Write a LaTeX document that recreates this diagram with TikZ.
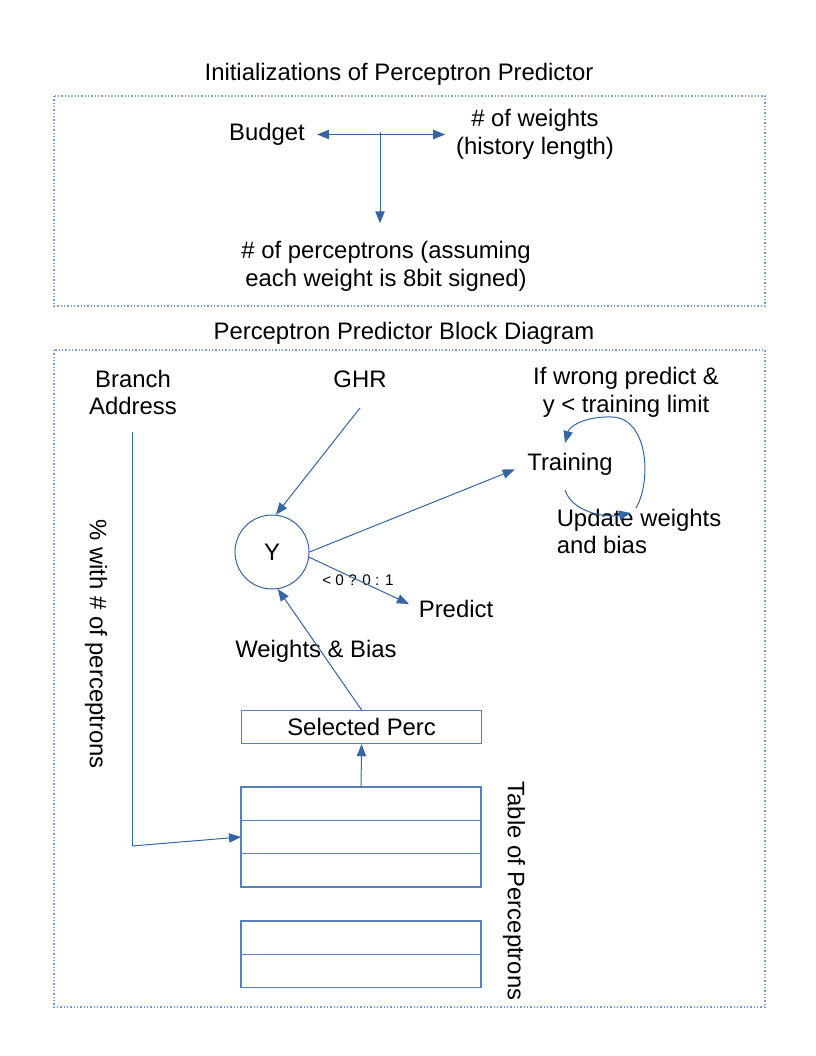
\documentclass[tikz,border=0pt]{standalone}
\usepackage{fontspec}
\setmainfont{Liberation Sans}
\usetikzlibrary{arrows.meta,calc}
\definecolor{lnblue}{HTML}{3465A4}
\definecolor{dotblue}{HTML}{729FCF}
\definecolor{boxblue}{HTML}{5A80BC}
\tikzset{
  txt/.style={inner sep=0pt, align=center, font=\fontsize{17.9}{20.6}\selectfont},
  smalltxt/.style={inner sep=0pt, font=\fontsize{11.5}{13}\selectfont},
  arr/.style={draw=lnblue, line width=0.75pt, -{Triangle[length=9pt,width=7pt]}},
  darr/.style={draw=lnblue, line width=0.75pt, {Triangle[length=9pt,width=7pt]}-{Triangle[length=9pt,width=7pt]}},
  plain/.style={draw=lnblue, line width=0.75pt},
  frame/.style={draw=dotblue, line width=0.9pt, dash pattern=on 1.1pt off 1.4pt},
  cell/.style={draw=boxblue, line width=0.9pt, minimum width=180pt, minimum height=25pt, inner sep=0pt, outer sep=0pt, anchor=north west},
  ycirc/.style={circle, draw=lnblue, line width=0.75pt, minimum size=55.5pt, inner sep=0pt, font=\fontsize{17.9}{20.6}\selectfont}
}
\begin{document}
\begin{tikzpicture}[x=0.75pt,y=-0.75pt]
\useasboundingbox (0,0) rectangle (816,1056);
% frames
\draw[frame] (54,96) rectangle (765,306);
\draw[frame] (54,350) rectangle (765,1007);
% titles
\node[txt] (t1) at (399,74.5) {Initializations of Perceptron Predictor};
\node[txt] (t2) at (404,333.5) {Perceptron Predictor Block Diagram};
% top part
\node[txt] (budget) at (267,134.5) {Budget};
\node[txt] (weights) at (535,134.5) {\# of weights\\(history length)};
\node[txt] (perc) at (386,266.5) {\# of perceptrons (assuming\\each weight is 8bit signed)};
\coordinate (tj) at (380,132);
\draw[darr, shorten <=9pt, shorten >=8pt] (budget.east) -- (weights.west);
\draw[arr] (tj) -- ($(perc.north)+(-6,-18)$);
% bottom part
\node[txt] (branch) at (133,392.5) {Branch\\Address};
\node[txt] (ghr) at (360,379.5) {GHR};
\node[txt] (cond) at (626,392.5) {If wrong predict \&\\y < training limit};
\node[txt] (train) at (570,464.5) {Training};
\node[txt, align=left] (upd) at (639,531.5) {Update weights\\and bias};
\node[ycirc] (Y) at (272,552) {Y};
\node[smalltxt] (cmp) at (358,580) {< 0 ? 0 : 1};
\node[txt] (pred) at (456,608.5) {Predict};
\node[txt] (wb) at (316,651.5) {Weights \& Bias};
\node[txt, rotate=-90] (tabl) at (514,891) {Table of Perceptrons};
\node[txt, rotate=-90] (modl) at (96,644) {\% with \# of perceptrons};
% boxes
\node[draw=boxblue, line width=0.9pt, minimum width=180pt, minimum height=24.75pt, inner sep=0pt, anchor=north west, font=\fontsize{17.9}{20.6}\selectfont] (sel) at (241,710) {Selected Perc};
\node[cell] (ra) at (241,787) {};
\node[cell] (rb) at (241,820.3) {};
\node[cell] (rc) at (241,853.6) {};
\node[cell] (rd) at (241,921) {};
\node[cell] (re) at (241,954.3) {};
% connectors
\coordinate (ghrs) at (360,408);
\draw[arr] (ghrs) -- (Y.84);
\draw[arr, shorten >=10pt] (Y.east) -- (train.west);
\draw[arr, shorten >=8pt] (Y.-8) -- (pred.west);
\draw[arr] (sel.north) -- (Y.-81);
\draw[arr] (ra.north) -- (sel.south);
\coordinate (bs) at (132,432);
\coordinate (bc) at (132,846);
\draw[plain] (bs) -- (bc);
\draw[arr] (bc) -- (rb.west);
% training loop
\coordinate (l1) at (565,490);
\coordinate (l2) at (631,513);
\coordinate (l3) at (636,508);
\coordinate (l4) at (565,443);
\draw[arr] (l1) .. controls (572,512) and (605,518) .. (l2);
\draw[arr] (l3) .. controls (652,480) and (648,418) .. (612,417) .. controls (588,416) and (570,425) .. (l4);
\end{tikzpicture}
\end{document}
